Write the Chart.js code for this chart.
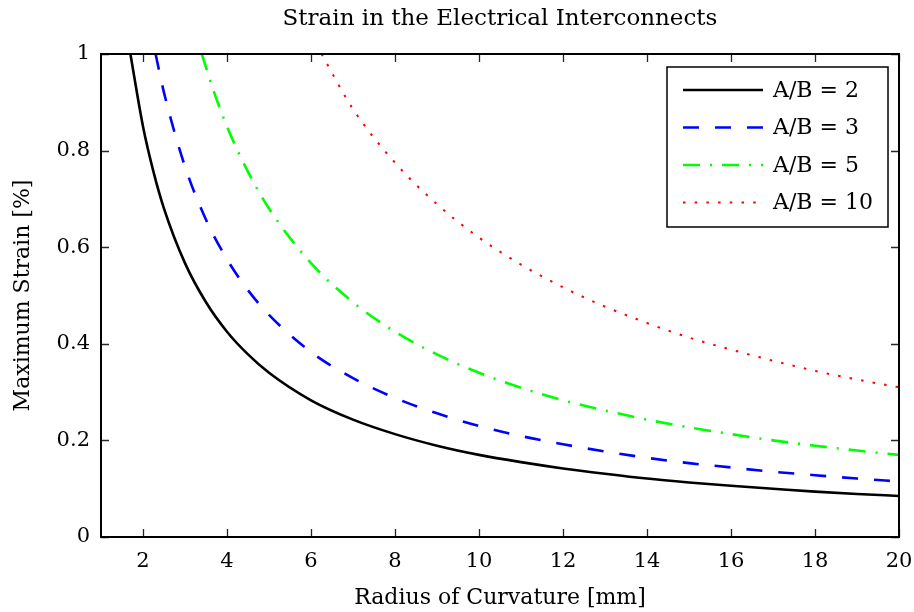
<!DOCTYPE html>
<html>
<head>
<meta charset="utf-8">
<script src="https://cdn.jsdelivr.net/npm/chart.js@4.4.0/dist/chart.umd.min.js"></script>
<style>
  html, body { margin: 0; padding: 0; background: #fff; }
  #wrap { width: 914px; height: 612px; position: relative; }
</style>
</head>
<body>
<div id="wrap"><canvas id="strainChart"></canvas></div>
<script>
// values (radius in mm, strain in %)
const xAB2 = [1.7, 2, 2.25, 2.5, 3, 3.5, 4, 4.5, 5, 6, 7, 8, 9, 10, 11, 12, 13, 14, 15, 16, 17, 18, 19, 20];
const yAB2 = [1.0, 0.85, 0.756, 0.68, 0.567, 0.486, 0.425, 0.378, 0.34, 0.283, 0.243, 0.213, 0.189, 0.17, 0.155, 0.142, 0.131, 0.121, 0.113, 0.106, 0.1, 0.094, 0.089, 0.085];

const xAB3 = [2.3, 2.5, 3, 3.5, 4, 4.5, 5, 6, 7, 8, 9, 10, 11, 12, 13, 14, 15, 16, 17, 18, 19, 20];
const yAB3 = [1.0, 0.92, 0.767, 0.657, 0.575, 0.511, 0.46, 0.383, 0.329, 0.288, 0.256, 0.23, 0.209, 0.192, 0.177, 0.164, 0.153, 0.144, 0.135, 0.128, 0.121, 0.115];

const xAB5 = [3.4, 3.7, 4, 4.5, 5, 6, 7, 8, 9, 10, 11, 12, 13, 14, 15, 16, 17, 18, 19, 20];
const yAB5 = [1.0, 0.919, 0.85, 0.756, 0.68, 0.567, 0.486, 0.425, 0.378, 0.34, 0.309, 0.283, 0.262, 0.243, 0.227, 0.213, 0.2, 0.189, 0.179, 0.17];

const xAB10 = [6.25, 7, 8, 9, 10, 11, 12, 13, 14, 15, 16, 17, 18, 19, 20];
const yAB10 = [1.0, 0.886, 0.775, 0.689, 0.62, 0.564, 0.517, 0.477, 0.443, 0.413, 0.388, 0.365, 0.344, 0.326, 0.31];

const seriesNames = ["A/B = 2", "A/B = 3", "A/B = 5", "A/B = 10"];
const xTicks = [2, 4, 6, 8, 10, 12, 14, 16, 18, 20];
const yTicks = [0, 0.2, 0.4, 0.6, 0.8, 1];
const yTickLabels = ["0", "0.2", "0.4", "0.6", "0.8", "1"];
const chartTitle = "Strain in the Electrical Interconnects";

const FONT = "'DejaVu Serif', serif";

function toPoints(xs, ys) {
  return xs.map((x, i) => ({ x: x, y: ys[i] }));
}

// title centred over the plot area (matlab style), not over the canvas
const plotTitlePlugin = {
  id: "plotTitle",
  afterDraw(chart) {
    const ctx = chart.ctx;
    const a = chart.chartArea;
    ctx.save();
    ctx.font = "23px " + FONT;
    ctx.fillStyle = "#000";
    ctx.textAlign = "center";
    ctx.textBaseline = "middle";
    ctx.fillText(chartTitle, (a.left + a.right) / 2, 19);
    ctx.restore();
  }
};

// box round the plot + inner ticks on all four sides
const boxTicksPlugin = {
  id: "boxTicks",
  afterDatasetsDraw(chart) {
    const ctx = chart.ctx;
    const a = chart.chartArea;
    const sx = chart.scales.x, sy = chart.scales.y;
    const len = 8;
    ctx.save();
    ctx.strokeStyle = "#262626";
    ctx.lineWidth = 1.3;
    ctx.beginPath();
    xTicks.forEach(v => {
      const px = Math.round(sx.getPixelForValue(v)) + 0.5;
      ctx.moveTo(px, a.bottom); ctx.lineTo(px, a.bottom - len);
      ctx.moveTo(px, a.top); ctx.lineTo(px, a.top + len);
    });
    yTicks.forEach(v => {
      const py = Math.round(sy.getPixelForValue(v)) + 0.5;
      ctx.moveTo(a.left, py); ctx.lineTo(a.left + len, py);
      ctx.moveTo(a.right, py); ctx.lineTo(a.right - len, py);
    });
    ctx.stroke();
    ctx.strokeStyle = "#000";
    ctx.lineWidth = 2;
    ctx.strokeRect(a.left, a.top, a.right - a.left, a.bottom - a.top);
    ctx.restore();
  }
};

// matlab like legend box, top right
const boxLegendPlugin = {
  id: "boxLegend",
  afterDraw(chart) {
    const ctx = chart.ctx;
    const left = 667, top = 67, w = 221, h = 160;
    ctx.save();
    ctx.fillStyle = "#fff";
    ctx.fillRect(left, top, w, h);
    ctx.strokeStyle = "#000";
    ctx.lineWidth = 1.5;
    ctx.strokeRect(left, top, w, h);
    ctx.font = "22px " + FONT;
    ctx.textBaseline = "middle";
    chart.data.datasets.forEach((ds, i) => {
      const y = 90 + i * 37.5;
      ctx.strokeStyle = ds.borderColor;
      ctx.lineWidth = ds.borderWidth;
      ctx.setLineDash(ds.borderDash || []);
      ctx.beginPath();
      ctx.moveTo(683, y);
      ctx.lineTo(763, y);
      ctx.stroke();
      ctx.setLineDash([]);
      ctx.fillStyle = "#000";
      ctx.fillText(ds.label, 773, y + 1);
    });
    ctx.restore();
  }
};

const datasets = [
  { label: seriesNames[0], data: toPoints(xAB2, yAB2), borderColor: "#000000", borderWidth: 2.6, borderDash: [] },
  { label: seriesNames[1], data: toPoints(xAB3, yAB3), borderColor: "#0000ff", borderWidth: 2.6, borderDash: [16, 16] },
  { label: seriesNames[2], data: toPoints(xAB5, yAB5), borderColor: "#00ff00", borderWidth: 2.6, borderDash: [17, 10, 2, 10] },
  { label: seriesNames[3], data: toPoints(xAB10, yAB10), borderColor: "#ff0000", borderWidth: 2, borderDash: [2.5, 9.2] }
];
datasets.forEach(d => {
  d.fill = false;
  d.pointRadius = 0;
  d.cubicInterpolationMode = "monotone";
});

new Chart(document.getElementById("strainChart"), {
  type: "line",
  data: { datasets: datasets },
  options: {
    responsive: true,
    maintainAspectRatio: false,
    animation: false,
    layout: { padding: { left: 0, right: 15, top: 54, bottom: 0 } },
    plugins: {
      legend: { display: false },
      tooltip: { enabled: false },
      title: { display: false }
    },
    scales: {
      x: {
        type: "linear",
        min: 1,
        max: 20,
        afterBuildTicks: s => { s.ticks = xTicks.map(v => ({ value: v })); },
        afterFit: s => { s.height = 75; s.paddingLeft = 0; s.paddingRight = 0; },
        grid: { display: false, drawTicks: false },
        border: { display: false },
        ticks: { color: "#000", padding: 12, font: { family: FONT, size: 21 } },
        title: {
          display: true,
          text: "Radius of Curvature [mm]",
          color: "#000",
          font: { family: FONT, size: 22 },
          padding: { top: 0, bottom: 1 }
        }
      },
      y: {
        min: 0,
        max: 1,
        afterBuildTicks: s => { s.ticks = yTicks.map(v => ({ value: v })); },
        afterFit: s => { s.width = 101; s.paddingTop = 0; s.paddingBottom = 0; },
        grid: { display: false, drawTicks: false },
        border: { display: false },
        ticks: {
          color: "#000",
          padding: 11,
          font: { family: FONT, size: 21 },
          callback: (v, i) => yTickLabels[i]
        },
        title: {
          display: true,
          text: "Maximum Strain [%]",
          color: "#000",
          font: { family: FONT, size: 22 },
          padding: { top: 10, bottom: 0 }
        }
      }
    }
  },
  plugins: [boxTicksPlugin, boxLegendPlugin, plotTitlePlugin]
});
</script>
</body>
</html>
